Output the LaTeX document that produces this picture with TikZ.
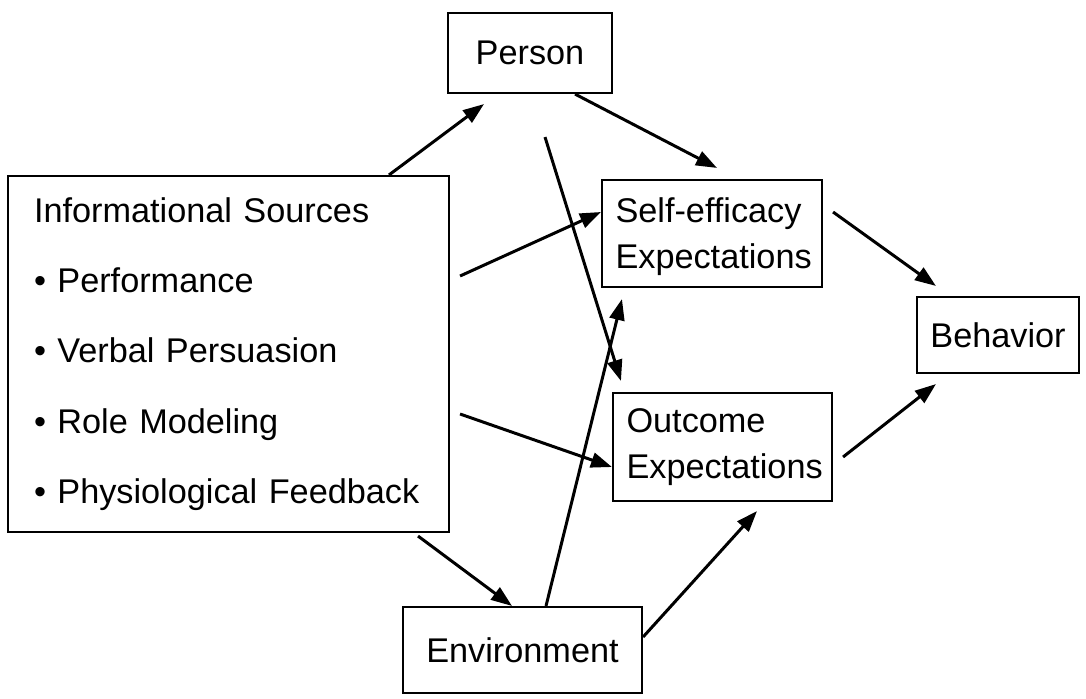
\documentclass[tikz,border=0pt]{standalone}
\usepackage{fontspec}
\setmainfont{Liberation Sans}
\usetikzlibrary{arrows.meta}
\tikzset{
  box/.style={draw,line width=1.2pt,inner sep=0pt,font=\fontsize{19.5}{26}\selectfont},
  twoline/.style={box,align=left,inner xsep=0.27cm,text width=#1},
  link/.style={line width=1.7pt,-{Triangle[length=0.42cm,width=0.3cm]}}
}
\begin{document}
\begin{tikzpicture}
\useasboundingbox (0,0) rectangle (21.72,-13.96);
% boxes
\node[box,minimum width=3.28cm,minimum height=1.6cm] (person) at (10.6,-1.06) {Person};
\node[box,align=left,inner xsep=0.52cm,text width=7.78cm,minimum height=7.12cm,
      font=\fontsize{19.5}{40}\selectfont] (info) at (4.57,-7.08)
  {Informational Sources\\
   \textbullet\ Performance\\
   \textbullet\ Verbal Persuasion\\
   \textbullet\ Role Modeling\\
   \textbullet\ Physiological Feedback};
\node[twoline=3.86cm,minimum height=2.14cm] (self) at (14.24,-4.67) {\rule{0pt}{0.62cm}Self-efficacy\\Expectations};
\node[twoline=3.84cm,minimum height=2.16cm] (outcome) at (14.45,-8.94) {Outcome\\Expectations};
\node[box,minimum width=3.24cm,minimum height=1.52cm] (behav) at (19.96,-6.7) {Behavior};
\node[box,minimum width=4.78cm,minimum height=1.72cm] (env) at (10.45,-13.0) {Environment};
% arrows
\draw[link] ([xshift=3.21cm]info.north) -- ([shift={(-0.92,-0.2)}]person.south);
\draw[link] ([xshift=0.9cm]person.south) -- ([shift={(0.1,0.22)}]self.north);
\draw[link] ([shift={(0.3,-0.86)}]person.south) -- ([shift={(0.18,0.22)}]outcome.north west);
\draw[link] ([shift={(0.2,1.56)}]info.east) -- ([yshift=0.43cm]self.west);
\draw[link] ([shift={(0.2,-1.2)}]info.east) -- ([yshift=-0.4cm]outcome.west);
\draw[link] ([shift={(-0.64,-0.06)}]info.south east) -- ([xshift=-0.21cm]env.north);
\draw[link] ([xshift=0.47cm]env.north) -- ([shift={(0.42,-0.22)}]self.south west);
\draw[link] ([yshift=0.26cm]env.east) -- ([shift={(0.69,-0.18)}]outcome.south);
\draw[link] ([shift={(0.2,0.43)}]self.east) -- ([shift={(0.4,0.2)}]behav.north west);
\draw[link] ([shift={(0.2,-0.2)}]outcome.east) -- ([shift={(0.4,-0.2)}]behav.south west);
\end{tikzpicture}
\end{document}
